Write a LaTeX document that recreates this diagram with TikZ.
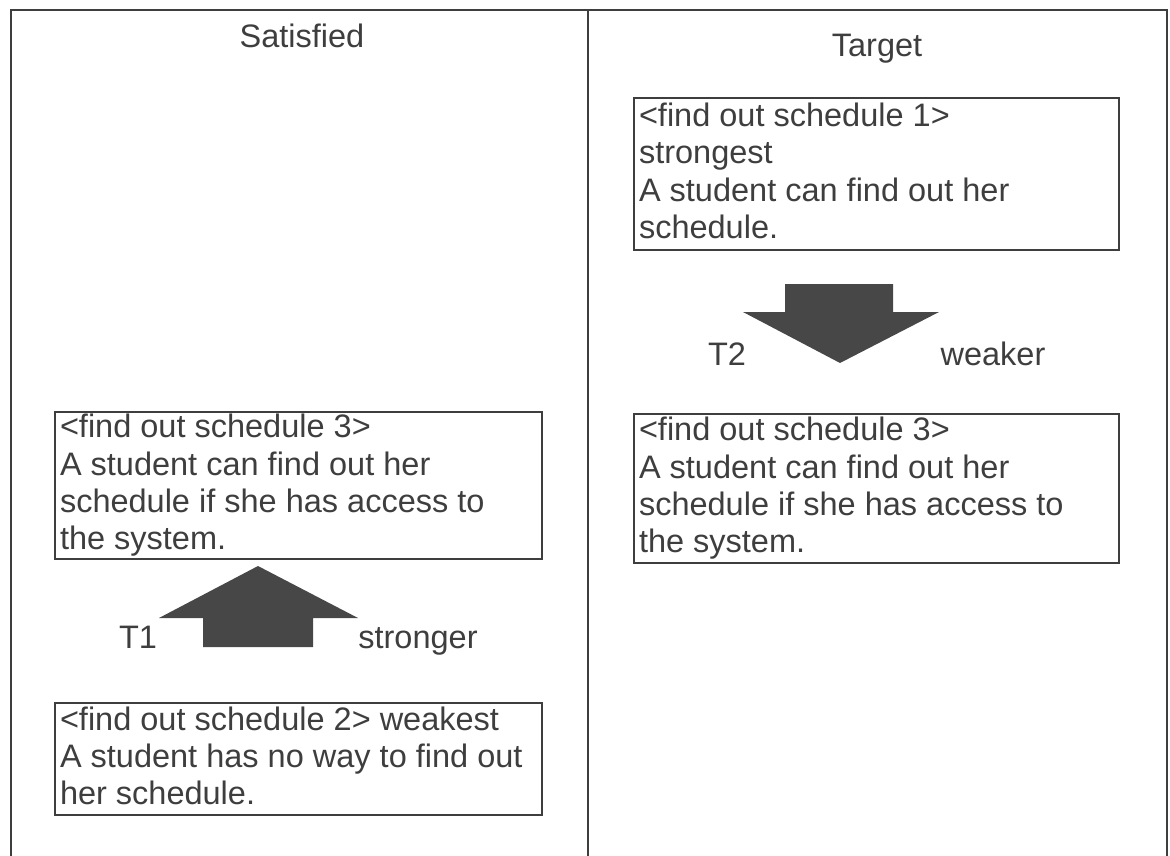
\documentclass[tikz,border=0pt]{standalone}
\usepackage{fontspec}
\setmainfont{Liberation Sans}
\usepackage{tikz}
\definecolor{inkgray}{HTML}{3E3E3E}
\definecolor{arrowgray}{HTML}{474747}
\newcommand{\figfont}{\fontsize{32.5}{37.3}\selectfont}

\begin{document}
\begin{tikzpicture}[x=1pt,y=-1pt,
    box/.style={draw=inkgray,line width=2pt,anchor=north west,align=flush left,
      inner xsep=5pt,inner ysep=0pt,text=inkgray,font=\figfont},
    lbl/.style={anchor=base,text=inkgray,font=\figfont},
    frame/.style={draw=inkgray,line width=2.8pt},
    blk/.style={fill=arrowgray}]
    \useasboundingbox (0,0) rectangle (1170,856);
    \draw[frame] (11,856) -- (11,10) -- (1167,10) -- (1167,856);
    \draw[frame] (588,10) -- (588,856);
    \node[lbl] (sat) at (302,48) {Satisfied};
    \node[lbl] (tgt) at (877,57) {Target};
    % left column
    \node[box, text width=477pt, minimum height=147pt] (sat3) at (54,411)
      {<find out schedule 3>\\A student can find out her\\schedule if she has access to\\the system.};
    \node[box, text width=477pt, minimum height=112pt] (sat2) at (54,702)
      {<find out schedule 2> weakest\\A student has no way to find out\\her schedule.\vphantom{y}};
    \fill[blk] (258,566) -- (358,618) -- (313,618) -- (313,647) -- (203,647)
      -- (203,618) -- (159,618) -- cycle;
    \node[lbl] (t1) at (138,648) {T1};
    \node[lbl] (str) at (418,648) {stronger};
    % right column
    \node[box, text width=475pt, minimum height=152pt] (tgt1) at (633,97)
      {<find out schedule 1>\\strongest\\A student can find out her\\schedule.\vphantom{y}};
    \node[box, text width=475pt, minimum height=149pt] (tgt3) at (633,413)
      {<find out schedule 3>\\A student can find out her\\schedule if she has access to\\the system.};
    \fill[blk] (785,284) -- (893,284) -- (893,312) -- (939,312) -- (840,363)
      -- (743,312) -- (785,312) -- cycle;
    \node[lbl] (t2) at (727,365) {T2};
    \node[lbl] (wkr) at (993,365) {weaker};
\end{tikzpicture}
\end{document}
